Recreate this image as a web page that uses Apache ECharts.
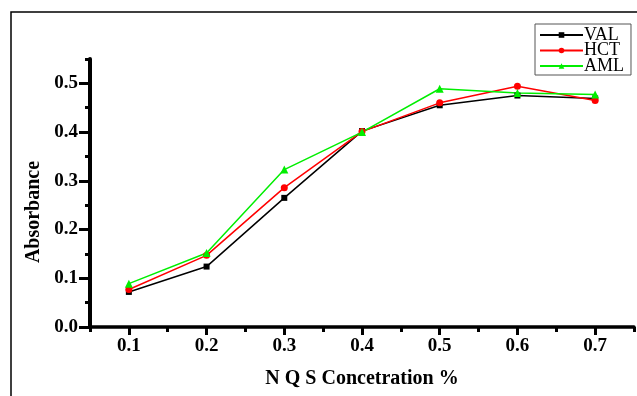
<!DOCTYPE html>
<html>
<head>
<meta charset="utf-8">
<script src="https://cdn.jsdelivr.net/npm/echarts@6/dist/echarts.min.js"></script>
<style>html,body{margin:0;padding:0;background:#fff;}#c{width:637px;height:396px;}</style>
</head>
<body>
<div id="c"></div>
<script>
var xValues = [0.1, 0.2, 0.3, 0.4, 0.5, 0.6, 0.7];
var valData = [0.072, 0.124, 0.265, 0.402, 0.455, 0.475, 0.469];
var hctData = [0.077, 0.147, 0.286, 0.401, 0.460, 0.494, 0.465];
var amlData = [0.089, 0.152, 0.323, 0.400, 0.489, 0.480, 0.477];
var seriesNames = ['VAL', 'HCT', 'AML'];
var xTickSteps = ['0.05','0.1','0.15','0.2','0.25','0.3','0.35','0.4','0.45','0.5','0.55','0.6','0.65','0.7','0.75'];
var yTickSteps = ['0','0.05','0.1','0.15','0.2','0.25','0.3','0.35','0.4','0.45','0.5','0.55'];
var xTitle = 'N Q S Concetration %';
var yTitle = 'Absorbance';

var FONT = '"Liberation Serif", "DejaVu Serif", serif';
function pairs(ys){ return xValues.map(function(x,i){ return [x, ys[i]]; }); }
function tenthLabel(v){
  var k = Math.round(v*100);
  return (k % 10 === 0) ? (k/100).toFixed(1) : '';
}
var chart = echarts.init(document.getElementById('c'), null, {renderer:'canvas'});
chart.setOption({
  animation: false,
  backgroundColor: '#fff',
  graphic: [{
    type: 'polyline',
    shape: {points: [[11, 396], [11, 12], [637, 12]]},
    style: {stroke: '#000', lineWidth: 1.5, fill: null}
  }],
  grid: {left: 90, right: 0, top: 59, bottom: 69, containLabel: false},
  legend: {
    orient: 'vertical',
    left: 535, top: 24,
    padding: [2, 7, 0, 4],
    borderColor: '#555', borderWidth: 1,
    itemWidth: 43, itemHeight: 7, itemGap: -2.5,
    textStyle: {fontFamily: FONT, fontSize: 18, color: '#000', lineHeight: 15, padding: [0,0,0,-4]},
    data: seriesNames
  },
  xAxis: [{
    type: 'value', min: 0.05, max: 0.75, interval: 0.05,
    axisLine: {lineStyle: {color: '#000', width: 3.5}},
    axisTick: {length: 5, lineStyle: {color: '#000', width: 3}},
    axisLabel: {formatter: tenthLabel, fontFamily: FONT, fontWeight: 'bold', fontSize: 19, color: '#000', margin: 10},
    splitLine: {show: false},
    name: xTitle, nameLocation: 'middle', nameGap: 42,
    nameTextStyle: {fontFamily: FONT, fontWeight: 'bold', fontSize: 20, color: '#000'}
  }, {
    type: 'category', position: 'bottom', data: xTickSteps, boundaryGap: false,
    axisLine: {show: false},
    axisTick: {show: true, length: 8, interval: function(i){ return i % 2 === 1; }, lineStyle: {color: '#000', width: 3}},
    axisLabel: {show: false}, splitLine: {show: false}
  }],
  yAxis: [{
    type: 'value', min: 0, max: 0.55, interval: 0.05,
    axisLine: {show: true, lineStyle: {color: '#000', width: 4}},
    axisTick: {show: true, length: 5, lineStyle: {color: '#000', width: 3}},
    axisLabel: {formatter: tenthLabel, fontFamily: FONT, fontWeight: 'bold', fontSize: 19, color: '#000', margin: 12},
    splitLine: {show: false},
    name: yTitle, nameLocation: 'middle', nameGap: 46, nameRotate: 90,
    nameTextStyle: {fontFamily: FONT, fontWeight: 'bold', fontSize: 20, color: '#000', padding: [0, 38, 0, 0]}
  }, {
    type: 'category', position: 'left', data: yTickSteps, boundaryGap: false,
    axisLine: {show: false},
    axisTick: {show: true, length: 11, interval: function(i){ return i % 2 === 0; }, lineStyle: {color: '#000', width: 3}},
    axisLabel: {show: false}, splitLine: {show: false}
  }],
  series: [{
    name: seriesNames[0], type: 'line', data: pairs(valData),
    symbol: 'rect', symbolSize: 6,
    lineStyle: {color: '#000', width: 1.5}, itemStyle: {color: '#000'}
  }, {
    name: seriesNames[1], type: 'line', data: pairs(hctData),
    symbol: 'circle', symbolSize: 7,
    lineStyle: {color: '#ff0000', width: 1.5}, itemStyle: {color: '#ff0000'}
  }, {
    name: seriesNames[2], type: 'line', data: pairs(amlData),
    symbol: 'triangle', symbolSize: 8,
    lineStyle: {color: '#00ee00', width: 1.5}, itemStyle: {color: '#00ee00'}
  }]
});
</script>
</body>
</html>
